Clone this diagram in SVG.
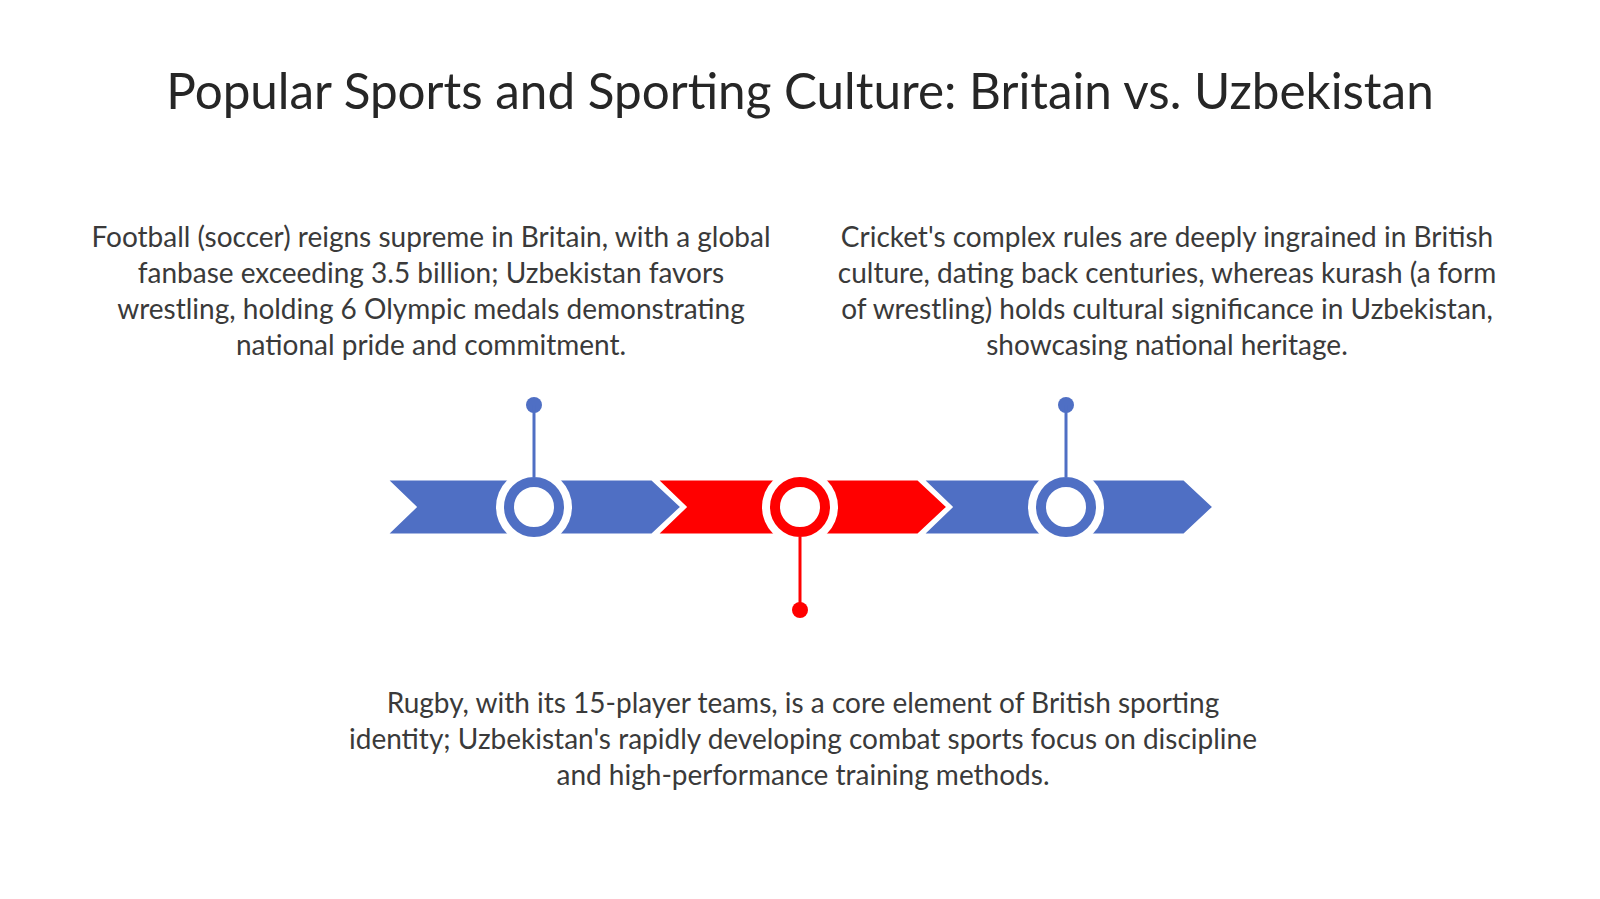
<svg xmlns="http://www.w3.org/2000/svg" width="1600" height="899" viewBox="0 0 1600 899">
<style>
.title{font-family:Lato,"Liberation Sans",sans-serif;font-size:49.4px;fill:#262626;text-anchor:middle}
.body{font-family:Lato,"Liberation Sans",sans-serif;font-size:28px;fill:#3a3a3a;text-anchor:middle}
.blue{fill:#4F6FC4}
.red{fill:#FF0000}
.seg{stroke:#ffffff;stroke-width:3;stroke-linejoin:miter}
.halo{fill:#ffffff}
.ringb{fill:#ffffff;stroke:#4F6FC4;stroke-width:10}
.ringr{fill:#ffffff;stroke:#FF0000;stroke-width:10}
.pinb{stroke:#4F6FC4;stroke-width:3}
.pinr{stroke:#FF0000;stroke-width:3}
</style>
<rect width="1600" height="899" fill="#ffffff"/>
<text class="title" x="800" y="109">Popular Sports and Sporting Culture: Britain vs. Uzbekistan</text>

<g id="timeline-bar">
<path class="seg blue" d="M386,479 L652,479 L682,507 L652,535 L386,535 L415,507 Z"/>
<path class="seg red" d="M656,479 L918,479 L948,507 L918,535 L656,535 L685,507 Z"/>
<path class="seg blue" d="M922,479 L1184,479 L1214,507 L1184,535 L922,535 L951,507 Z"/>
</g>

<g id="node1">
<circle class="halo" cx="534" cy="507" r="38"/>
<circle class="ringb" cx="534" cy="507" r="25"/>
<circle class="blue" cx="534" cy="405" r="8"/>
<text class="body" x="431" y="247">Football (soccer) reigns supreme in Britain, with a global</text>
<text class="body" x="431" y="283">fanbase exceeding 3.5 billion; Uzbekistan favors</text>
<text class="body" x="431" y="319">wrestling, holding 6 Olympic medals demonstrating</text>
<text class="body" x="431" y="355">national pride and commitment.</text>
</g>

<g id="node2">
<circle class="halo" cx="800" cy="507" r="38"/>
<circle class="ringr" cx="800" cy="507" r="25"/>
<circle class="red" cx="800" cy="610" r="8"/>
<text class="body" x="803" y="713">Rugby, with its 15-player teams, is a core element of British sporting</text>
<text class="body" x="803" y="749">identity; Uzbekistan's rapidly developing combat sports focus on discipline</text>
<text class="body" x="803" y="785">and high-performance training methods.</text>
</g>

<g id="node3">
<circle class="halo" cx="1066" cy="507" r="38"/>
<circle class="ringb" cx="1066" cy="507" r="25"/>
<circle class="blue" cx="1066" cy="405" r="8"/>
<text class="body" x="1167" y="247">Cricket's complex rules are deeply ingrained in British</text>
<text class="body" x="1167" y="283">culture, dating back centuries, whereas kurash (a form</text>
<text class="body" x="1167" y="319">of wrestling) holds cultural significance in Uzbekistan,</text>
<text class="body" x="1167" y="355">showcasing national heritage.</text>
</g>

<g id="connectors">
<line class="pinb" x1="534" y1="405" x2="534" y2="477"/>
<line class="pinr" x1="800" y1="537" x2="800" y2="610"/>
<line class="pinb" x1="1066" y1="405" x2="1066" y2="477"/>
</g>
</svg>
